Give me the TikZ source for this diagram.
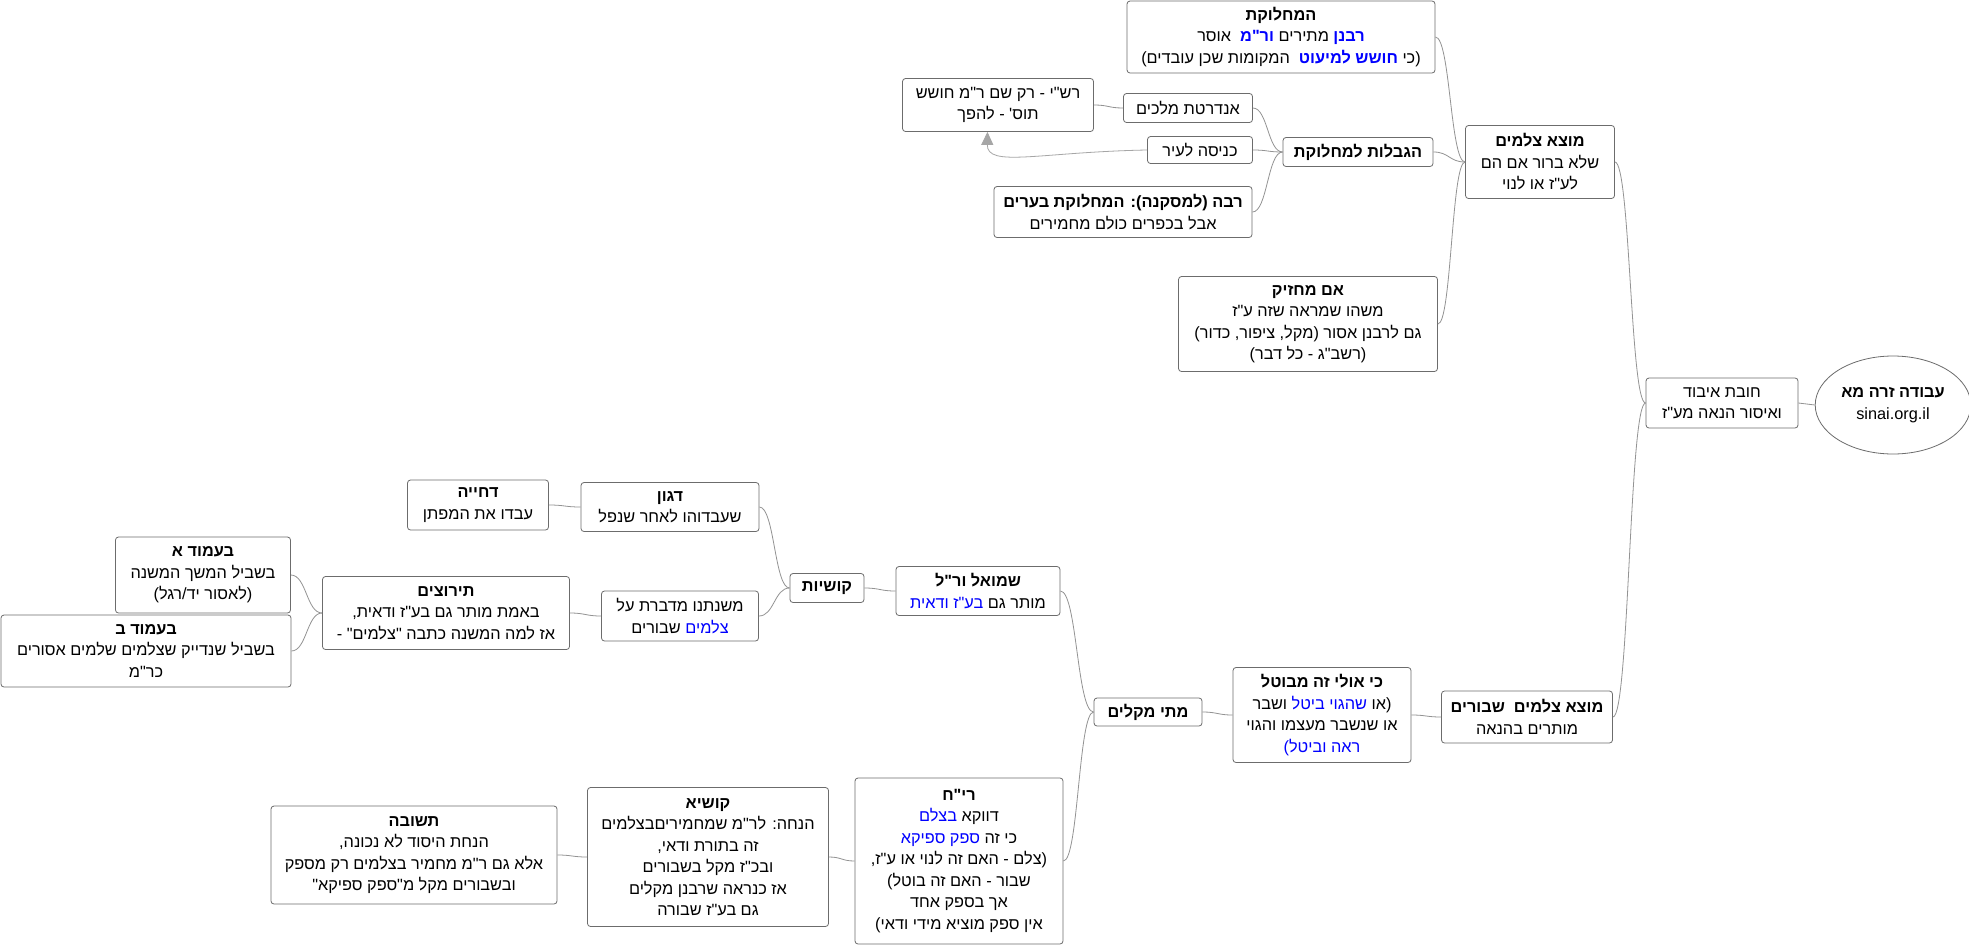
\documentclass[tikz,border=0pt]{standalone}
\usepackage{fontspec}
\setmainfont{Liberation Sans}
\newfontfamily\hebfont[Script=Hebrew]{Liberation Sans}
\newfontfamily\hebblue[Script=Hebrew,Color=0000FF]{Liberation Sans}
\usepackage{xcolor}
\usepackage{tikz}
\usetikzlibrary{arrows.meta,shapes.geometric,calc}
\TeXXeTstate=1
\newcommand{\blu}[1]{{\hebblue #1}}
\newcommand{\heb}[1]{{\hebfont\beginR #1\endR}}

\begin{document}
\begin{tikzpicture}[x=1pt, y=-1pt, font=\fontsize{16.3}{21.5}\selectfont,
  box/.style={draw=gray!85!black, fill=white, rounded corners=3pt, align=center, inner sep=1pt, line width=0.8pt},
  link/.style={draw=gray!85, line width=0.8pt,
    to path={.. controls ($(\tikztostart)!0.5!(\tikztotarget |- \tikztostart)$) and ($(\tikztotarget)!0.5!(\tikztostart |- \tikztotarget)$) .. (\tikztotarget)}}]
  \useasboundingbox[fill=white] (0,0) rectangle (1969,945);

  % Root and first level
  \node[draw=gray!85!black, fill=white, ellipse, line width=0.8pt, minimum width=128, minimum height=98, align=center] (root) at (1893,405) {\heb{\textbf{עבודה זרה מא}}\\sinai.org.il};
  \node[box, minimum width=152, minimum height=50] (hovat) at (1722,403) {\heb{חובת איבוד}\\\heb{ואיסור הנאה מע"ז}};

  % Upper branch: idols of unclear status
  \node[box, minimum width=149, minimum height=73] (motze) at (1540,162) {\heb{\textbf{מוצא צלמים}}\\\heb{שלא ברור אם הם}\\\heb{לע"ז או לנוי}};
  \node[box, minimum width=308, minimum height=72] (mahloket) at (1281,37) {\heb{\textbf{המחלוקת}}\\\heb{\textbf{\blu{רבנן}} מתירים \textbf{\blu{ור"מ}}\ \ אוסר}\\\heb{(כי \textbf{\blu{חושש למיעוט}}\ \ המקומות שכן עובדים)}};
  \node[box, minimum width=150, minimum height=29] (hagbalot) at (1358,152) {\heb{\textbf{הגבלות למחלוקת}}};
  \node[box, minimum width=129, minimum height=29] (andartat) at (1188,108) {\heb{אנדרטת מלכים}};
  \node[box, minimum width=105, minimum height=27] (knisa) at (1200,150) {\heb{כניסה לעיר}};
  \node[box, minimum width=258, minimum height=51] (rabba) at (1123,212) {\heb{\textbf{רבה (למסקנה): המחלוקת בערים}}\\\heb{אבל בכפרים כולם מחמירים}};
  \node[box, minimum width=191, minimum height=53] (rashi) at (998,105) {\heb{רש"י - רק שם ר"מ חושש}\\\heb{תוס' - להפך}};
  \node[box, minimum width=259, minimum height=95] (mahzik) at (1308,324) {\heb{\textbf{אם מחזיק}}\\\heb{משהו שמראה שזה ע"ז}\\\heb{גם לרבנן אסור (מקל, ציפור, כדור)}\\\heb{(רשב"ג - כל דבר)}};

  % Lower branch: broken idols
  \node[box, minimum width=171, minimum height=52] (shvurim) at (1527,717) {\heb{\textbf{מוצא צלמים\ \ שבורים}}\\\heb{מותרים בהנאה}};
  \node[box, minimum width=178, minimum height=95] (mevutal) at (1322,715) {\heb{\textbf{כי אולי זה מבוטל}}\\\heb{(או \blu{שהגוי ביטל} ושבר}\\\heb{או שנשבר מעצמו והגוי}\\\heb{\blu{ראה וביטל)}}};
  \node[box, minimum width=108, minimum height=28] (matai) at (1148,712) {\heb{\textbf{מתי מקלים}}};
  \node[box, minimum width=164, minimum height=49] (shmuel) at (978,591) {\heb{\textbf{שמואל ור"ל}}\\\heb{מותר גם \blu{בע"ז ודאית}}};
  \node[box, minimum width=208, minimum height=166] (rih) at (959,861) {\heb{\textbf{רי"ח}}\\\heb{דווקא \blu{בצלם}}\\\heb{כי זה \blu{ספק ספיקא}}\\\heb{(צלם - האם זה לנוי או ע"ז,}\\\heb{שבור - האם זה בוטל)}\\\heb{אך בספק אחד}\\\heb{אין ספק מוציא מידי ודאי)}};
  \node[box, minimum width=241, minimum height=139] (kushia) at (708,857) {\heb{\textbf{קושיא}}\\\heb{הנחה: לר"מ שמחמיריםבצלמים}\\\heb{זה בתורת ודאי,}\\\heb{ובכ"ז מקל בשבורים}\\\heb{אז כנראה שרבנן מקלים}\\\heb{גם בע"ז שבורה}};
  \node[box, minimum width=286, minimum height=98] (tshuva) at (414,855) {\heb{\textbf{תשובה}}\\\heb{הנחת היסוד לא נכונה,}\\\heb{אלא גם ר"מ מחמיר בצלמים רק מספק}\\\heb{ובשבורים מקל מ"ספק ספיקא"}};

  % Questions
  \node[box, minimum width=74, minimum height=29] (kushiot) at (827,588) {\heb{\textbf{קושיות}}};
  \node[box, minimum width=178, minimum height=49] (dagon) at (670,507) {\heb{\textbf{דגון}}\\\heb{שעבדוהו לאחר שנפל}};
  \node[box, minimum width=157, minimum height=50] (mishnatenu) at (680,616) {\heb{משנתנו מדברת על}\\\heb{\blu{צלמים} שבורים}};
  \node[box, minimum width=141, minimum height=50] (dhiya) at (478,505) {\heb{\textbf{דחייה}}\\\heb{עבדו את המפתן}};
  \node[box, minimum width=247, minimum height=73] (terutzim) at (446,613) {\heb{\textbf{תירוצים}}\\\heb{באמת מותר גם בע"ז ודאית,}\\\heb{אז למה המשנה כתבה "צלמים" -}};
  \node[box, minimum width=175, minimum height=76] (amudA) at (203,575) {\heb{\textbf{בעמוד א}}\\\heb{בשביל המשך המשנה}\\\heb{(לאסור יד/רגל)}};
  \node[box, minimum width=290, minimum height=72] (amudB) at (146,651) {\heb{\textbf{בעמוד ב}}\\\heb{בשביל שנדייק שצלמים שלמים אסורים}\\\heb{כר"מ}};

  % Connectors
  \draw[link] (root.west) -- (hovat.east);
  \draw[link] (hovat.west) to (motze.east);
  \draw[link] (hovat.west) to (shvurim.east);
  \draw[link] (motze.west) to (mahloket.east);
  \draw[link] (motze.west) to (hagbalot.east);
  \draw[link] (motze.west) to (mahzik.east);
  \draw[link] (hagbalot.west) to (andartat.east);
  \draw[link] (hagbalot.west) to (knisa.east);
  \draw[link] (hagbalot.west) to (rabba.east);
  \draw[link] (andartat.west) to (rashi.east);
  \coordinate (tip) at ($(rashi.south west)!0.445!(rashi.south east)$);
  \draw[draw=gray!70, line width=0.8pt, -{Triangle[width=12pt,length=13pt]}] (knisa.west) .. controls (1040,152) and (987,168) .. (tip);
  \draw[link] (shvurim.west) to (mevutal.east);
  \draw[link] (mevutal.west) to (matai.east);
  \draw[link] (matai.west) to (shmuel.east);
  \draw[link] (matai.west) to (rih.east);
  \draw[link] (shmuel.west) to (kushiot.east);
  \draw[link] (kushiot.west) to (dagon.east);
  \draw[link] (kushiot.west) to (mishnatenu.east);
  \draw[link] (dagon.west) to (dhiya.east);
  \draw[link] (mishnatenu.west) to (terutzim.east);
  \draw[link] (terutzim.west) to (amudA.east);
  \draw[link] (terutzim.west) to (amudB.east);
  \draw[link] (rih.west) to (kushia.east);
  \draw[link] (kushia.west) to (tshuva.east);
\end{tikzpicture}
\end{document}
